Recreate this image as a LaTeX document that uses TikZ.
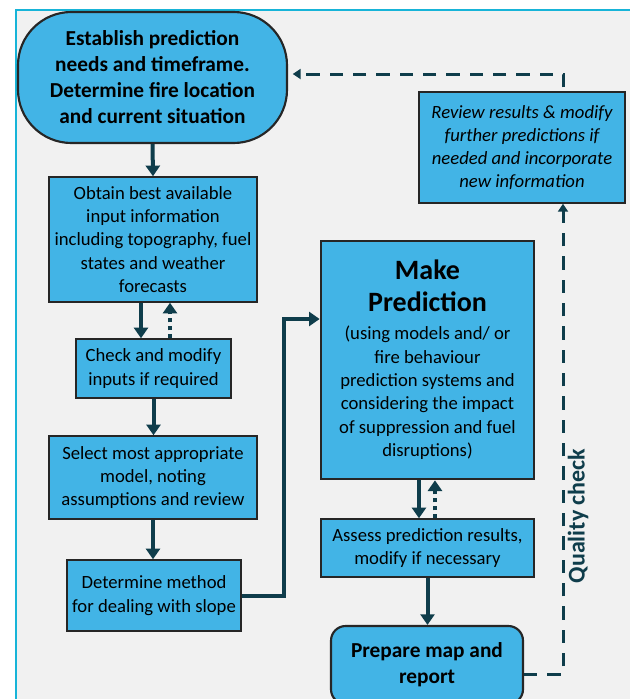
\documentclass[tikz,border=0pt]{standalone}
\usepackage{fontspec}
\setmainfont{Carlito}
\usetikzlibrary{arrows.meta}
\definecolor{boxblue}{HTML}{42B4E6}
\definecolor{arrowteal}{HTML}{0F3D4B}
\definecolor{framecyan}{HTML}{17B4D8}
\definecolor{panelgrey}{HTML}{F1F1F1}
\tikzset{
  box/.style={draw=black!85, line width=1.1pt, fill=boxblue, align=center, inner sep=0pt,
    font=\fontsize{14}{17.5}\selectfont},
  bigbox/.style={box, line width=2pt},
  termbox/.style={box, line width=1.6pt, font=\bfseries\fontsize{16}{19.5}\selectfont},
  flow/.style={arrowteal, line width=3pt, -{Triangle[width=10.5pt,length=8pt]}},
  back/.style={flow, dash pattern=on 3pt off 3pt},
  qline/.style={arrowteal, line width=2.25pt, dash pattern=on 10pt off 7.5pt,
    -{Triangle[width=7.5pt,length=6pt]}},
}
\begin{document}
\begin{tikzpicture}[x=0.75pt,y=-0.75pt]
\useasboundingbox (0,0) rectangle (630,699);
\clip (0,0) rectangle (630,699);
\fill[white] (0,0) rectangle (630,699);
\draw[framecyan, line width=1.5pt, fill=panelgrey] (16,10) rectangle (640,720);
\node[termbox, rounded corners=40pt, minimum width=201.75pt, minimum height=98.25pt] (start) at (152.5,77.5)
  {Establish prediction\\needs and timeframe.\\Determine fire location\\and current situation};
\node[box, minimum width=156pt, minimum height=93.75pt] (obtain) at (153,239.5)
  {Obtain best available\\input information\\including topography, fuel\\states and weather\\forecasts};
\node[box, minimum width=116.25pt, minimum height=44.25pt] (check) at (153.5,368.5)
  {Check and modify\\inputs if required};
\node[box, minimum width=156pt, minimum height=62.25pt] (select) at (153,477.5)
  {Select most appropriate\\model, noting\\assumptions and review};
\node[box, minimum width=130.5pt, minimum height=53.25pt] (method) at (154,595.5)
  {Determine method\\for dealing with slope};
\node[bigbox, minimum width=159.75pt, minimum height=178.5pt] (predict) at (427.5,360)
  {\bfseries\fontsize{21}{25.5}\selectfont Make\\[6.5pt]\bfseries\fontsize{21}{25.5}\selectfont Prediction\\[3.5pt]
   (using models and/ or\\fire behaviour\\prediction systems and\\considering the impact\\of suppression and fuel\\disruptions)};
\node[box, minimum width=159.75pt, minimum height=43.5pt] (assess) at (427.5,548)
  {Assess prediction results,\\modify if necessary};
\node[termbox, rounded corners=11pt, minimum width=144pt, minimum height=58.5pt] (report) at (427,665)
  {Prepare map and\\report};
\node[box, minimum width=154.5pt, minimum height=83.25pt, font=\itshape\fontsize{14}{17.25}\selectfont] (review) at (522,147.5)
  {Review results \& modify\\further predictions if\\needed and incorporate\\new information};
\node[rotate=90, text=arrowteal, font=\bfseries\fontsize{18}{21}\selectfont] (qcheck) at (578,516) {Quality check};
\draw[flow] (start.south) -- (obtain.north);
\draw[flow] ([xshift=-9pt]obtain.south) -- ([xshift=-9pt]obtain.south |- check.north);
\draw[back] ([xshift=12.75pt]obtain.south |- check.north) -- ([xshift=12.75pt]obtain.south);
\draw[flow] (check.south) -- (check.south |- select.north);
\draw[flow] (select.south) -- (select.south |- method.north);
\draw[flow] (method.east) -- ++(42,0) |- ([yshift=30.75pt]predict.west);
\draw[flow] ([xshift=-6.4pt]predict.south) -- ([xshift=-6.4pt]predict.south |- assess.north);
\draw[back] ([xshift=5.6pt]predict.south |- assess.north) -- ([xshift=5.6pt]predict.south);
\draw[flow] (assess.south) -- (assess.south |- report.north);
\draw[qline] ([yshift=-6.75pt]report.east) -| ([xshift=30.75pt]review.south);
\draw[qline, shorten <=3pt, shorten >=3.5pt] ([xshift=30.75pt]review.north) |- ([yshift=2.6pt]start.east);
\end{tikzpicture}
\end{document}
